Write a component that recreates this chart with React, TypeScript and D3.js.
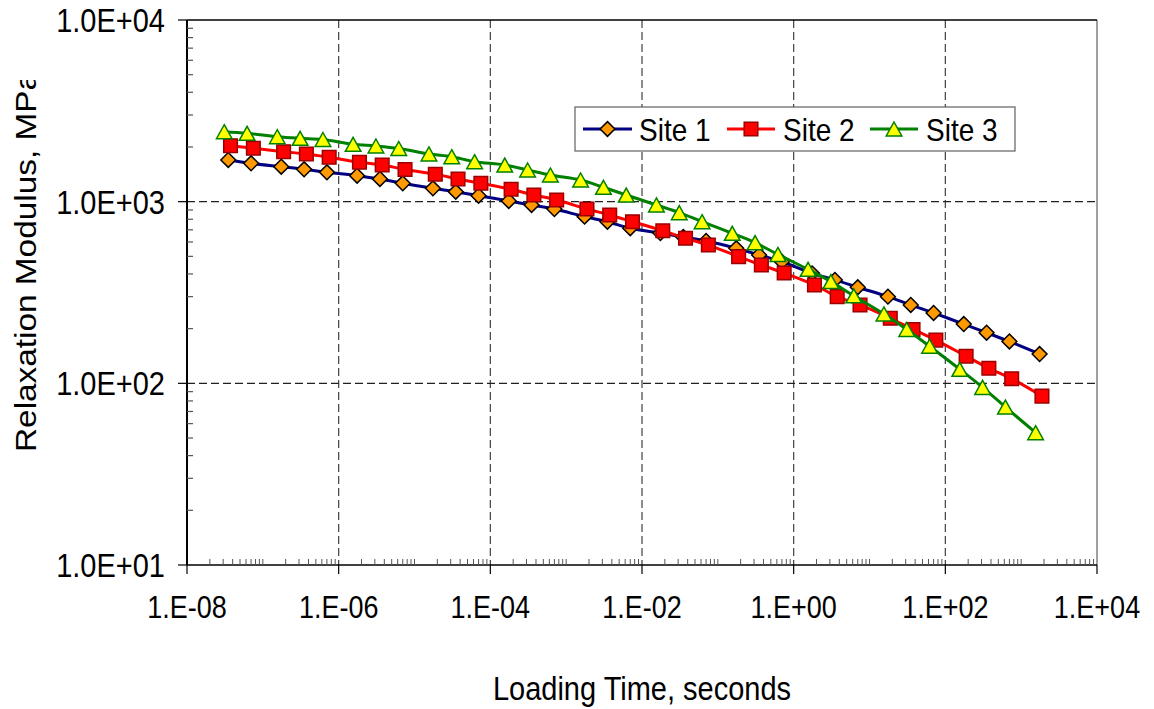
import React from 'react';
import * as d3 from 'd3';

const W = 1154;
const H = 709;

// Loading time (s) for each site
const timeSite1 = [3.5e-8, 7e-8, 1.75e-7, 3.5e-7, 7e-7, 1.75e-6, 3.5e-6, 7e-6, 1.75e-5, 3.5e-5, 7e-5, 1.75e-4, 3.5e-4, 7e-4, 1.75e-3, 3.5e-3, 7e-3, 1.75e-2, 3.5e-2, 7e-2, 0.175, 0.35, 0.7, 1.75, 3.5, 7, 17.5, 35, 70, 175, 350, 700, 1750];
const timeSite2 = [3.75e-8, 7.5e-8, 1.88e-7, 3.75e-7, 7.5e-7, 1.88e-6, 3.75e-6, 7.5e-6, 1.88e-5, 3.75e-5, 7.5e-5, 1.88e-4, 3.75e-4, 7.5e-4, 1.88e-3, 3.75e-3, 7.5e-3, 1.88e-2, 3.75e-2, 7.5e-2, 0.188, 0.375, 0.75, 1.88, 3.75, 7.5, 18.8, 37.5, 75, 188, 375, 750, 1880];
const timeSite3 = [3.1e-8, 6.2e-8, 1.55e-7, 3.1e-7, 6.2e-7, 1.55e-6, 3.1e-6, 6.2e-6, 1.55e-5, 3.1e-5, 6.2e-5, 1.55e-4, 3.1e-4, 6.2e-4, 1.55e-3, 3.1e-3, 6.2e-3, 1.55e-2, 3.1e-2, 6.2e-2, 0.155, 0.31, 0.62, 1.55, 3.1, 6.2, 15.5, 31, 62, 155, 310, 620, 1550];

// Relaxation modulus (MPa)
const modulusSite1 = [1696, 1627, 1558, 1508, 1451, 1390, 1333, 1262, 1185, 1134, 1079, 1009, 959, 911, 827, 776, 714, 672, 639, 608, 554, 509, 467, 403, 371, 338, 300, 270, 244, 212, 190, 170, 145];
const modulusSite2 = [2033, 1967, 1884, 1830, 1755, 1647, 1591, 1504, 1415, 1333, 1262, 1170, 1088, 1021, 911, 845, 776, 692, 629, 577, 498, 448, 405, 348, 300, 270, 228, 198, 173, 141, 121, 106, 85];
const modulusSite3 = [2428, 2379, 2279, 2233, 2199, 2069, 2025, 1962, 1830, 1768, 1660, 1591, 1494, 1402, 1316, 1200, 1088, 959, 870, 776, 670, 595, 512, 424, 363, 303, 241, 198, 160, 119.5, 95, 74, 53.5];

const seriesNames = ['Site 1', 'Site 2', 'Site 3'];

const xTickValues = [1e-8, 1e-6, 1e-4, 1e-2, 1, 1e2, 1e4];
const xTickLabels = ['1.E-08', '1.E-06', '1.E-04', '1.E-02', '1.E+00', '1.E+02', '1.E+04'];
const yTickValues = [10, 100, 1000, 10000];
const yTickLabels = ['1.0E+01', '1.0E+02', '1.0E+03', '1.0E+04'];

const FONT = '"Liberation Sans", Arial, sans-serif';
const STRETCH = 1.15;

const plot = { left: 187, right: 1097, top: 20, bottom: 565 };

const x = d3.scaleLog().domain([1e-8, 1e4]).range([plot.left, plot.right]);
const y = d3.scaleLog().domain([10, 1e4]).range([plot.bottom, plot.top]);

type Shape = 'diamond' | 'square' | 'triangle';
const styles: { line: string; fill: string; stroke: string; shape: Shape }[] = [
  { line: '#000080', fill: '#FF9900', stroke: '#000000', shape: 'diamond' },
  { line: '#FF0000', fill: '#FF0000', stroke: '#9A0000', shape: 'square' },
  { line: '#008000', fill: '#FFFF00', stroke: '#008000', shape: 'triangle' },
];

function markerPath(shape: Shape, cx: number, cy: number): string {
  if (shape === 'diamond') {
    const r = 7.4;
    return `M${cx},${cy - r}L${cx + r},${cy}L${cx},${cy + r}L${cx - r},${cy}Z`;
  }
  if (shape === 'square') {
    const h = 6.8;
    return `M${cx - h},${cy - h}H${cx + h}V${cy + h}H${cx - h}Z`;
  }
  const hw = 7.8;
  const hh = 7;
  return `M${cx},${cy - hh}L${cx + hw},${cy + hh}L${cx - hw},${cy + hh}Z`;
}

function Marker({ shape, cx, cy, fill, stroke }: { shape: Shape; cx: number; cy: number; fill: string; stroke: string }) {
  return <path d={markerPath(shape, cx, cy)} fill={fill} stroke={stroke} strokeWidth={1.5} strokeLinejoin="miter" />;
}

function Label({ x0, y0, anchor, children, size }: { x0: number; y0: number; anchor: string; children: React.ReactNode; size: number }) {
  return (
    <text transform={`translate(${x0},${y0}) scale(1,${STRETCH})`} textAnchor={anchor} fontFamily={FONT} fontSize={size} fill="#000">
      {children}
    </text>
  );
}

const capHeight = (size: number) => size * 0.716 * STRETCH;

export default function App() {
  const data = [
    timeSite1.map((t, i) => [t, modulusSite1[i]]),
    timeSite2.map((t, i) => [t, modulusSite2[i]]),
    timeSite3.map((t, i) => [t, modulusSite3[i]]),
  ];
  const line = d3
    .line<number[]>()
    .x((d) => x(d[0]))
    .y((d) => y(d[1]))
    .curve(d3.curveCatmullRom.alpha(0.5));

  // minor ticks: 2..9 within each decade plus odd decades on x
  const minorX: number[] = [];
  for (let e = -8; e < 4; e++) {
    for (let m = 1; m <= 9; m++) {
      if (m === 1 && e % 2 === 0) continue;
      minorX.push(m * Math.pow(10, e));
    }
  }
  const minorY: number[] = [];
  for (let e = 1; e < 4; e++) {
    for (let m = 2; m <= 9; m++) minorY.push(m * Math.pow(10, e));
  }

  const yLabelSize = 29;
  const xLabelSize = 27;
  const legendSize = 28;
  const titleSize = 29;

  const legend = { x: 575, y: 107, w: 440, h: 44 };
  const legendItems = [
    { lx0: 583, lx1: 632, tx: 639 },
    { lx0: 727, lx1: 775, tx: 783 },
    { lx0: 870, lx1: 918, tx: 926 },
  ];
  const legendMid = legend.y + legend.h / 2;

  return (
    <svg width={W} height={H} style={{ position: 'absolute', left: 0, top: 0, background: '#fff' }}>
      <defs>
        <clipPath id="ytitle-clip">
          <rect x={0} y={80} width={60} height={600} />
        </clipPath>
      </defs>
      <rect x={0} y={0} width={W} height={H} fill="#fff" />

      {/* grid */}
      {xTickValues.slice(1, -1).map((v) => (
        <line key={'gx' + v} x1={x(v)} x2={x(v)} y1={plot.top} y2={plot.bottom} stroke="#404040" strokeWidth={1.2} strokeDasharray="8,4" />
      ))}
      {yTickValues.slice(1, -1).map((v) => (
        <line key={'gy' + v} x1={plot.left} x2={plot.right} y1={y(v)} y2={y(v)} stroke="#202020" strokeWidth={1.2} strokeDasharray="8,4" />
      ))}

      {/* plot frame */}
      <line x1={plot.right} x2={plot.right} y1={plot.top} y2={plot.bottom} stroke="#808080" strokeWidth={1.5} />
      <line x1={plot.left} x2={plot.right} y1={plot.top} y2={plot.top} stroke="#000" strokeWidth={1.5} />

      {/* y axis */}
      <line x1={plot.left} x2={plot.left} y1={plot.top} y2={plot.bottom} stroke="#000" strokeWidth={2} />
      {yTickValues.map((v) => (
        <line key={'yt' + v} x1={plot.left - 9} x2={plot.left} y1={y(v)} y2={y(v)} stroke="#000" strokeWidth={1.2} />
      ))}
      {minorY.map((v) => (
        <line key={'ym' + v} x1={plot.left} x2={plot.left + 6} y1={y(v)} y2={y(v)} stroke="#555" strokeWidth={1.2} />
      ))}
      {yTickValues.map((v, i) => (
        <Label key={'yl' + v} x0={plot.left - 22} y0={y(v) + capHeight(yLabelSize) / 2} anchor="end" size={yLabelSize}>
          {yTickLabels[i]}
        </Label>
      ))}

      {/* x axis */}
      <line x1={plot.left} x2={plot.right} y1={plot.bottom} y2={plot.bottom} stroke="#000" strokeWidth={1.5} />
      {xTickValues.map((v) => (
        <line key={'xt' + v} x1={x(v)} x2={x(v)} y1={plot.bottom} y2={plot.bottom + 9} stroke="#000" strokeWidth={1.2} />
      ))}
      {minorX.map((v) => (
        <line key={'xm' + v} x1={x(v)} x2={x(v)} y1={plot.bottom - 6} y2={plot.bottom} stroke="#555" strokeWidth={1} />
      ))}
      {xTickValues.map((v, i) => (
        <Label key={'xl' + v} x0={x(v)} y0={plot.bottom + 53} anchor="middle" size={xLabelSize}>
          {xTickLabels[i]}
        </Label>
      ))}

      {/* series */}
      {data.map((pts, si) => (
        <g key={seriesNames[si]}>
          <path d={line(pts) || ''} fill="none" stroke={styles[si].line} strokeWidth={3} />
          {pts.map((d, i) => (
            <Marker key={i} shape={styles[si].shape} cx={x(d[0])} cy={y(d[1])} fill={styles[si].fill} stroke={styles[si].stroke} />
          ))}
        </g>
      ))}

      {/* legend */}
      <rect x={legend.x} y={legend.y} width={legend.w} height={legend.h} fill="#fff" stroke="#606060" strokeWidth={1.2} />
      {legendItems.map((it, i) => (
        <g key={'lg' + i}>
          <line x1={it.lx0} x2={it.lx1} y1={legendMid} y2={legendMid} stroke={styles[i].line} strokeWidth={3} />
          <Marker shape={styles[i].shape} cx={(it.lx0 + it.lx1) / 2} cy={legendMid} fill={styles[i].fill} stroke={styles[i].stroke} />
          <Label x0={it.tx} y0={legendMid + capHeight(legendSize) / 2} anchor="start" size={legendSize}>
            {seriesNames[i]}
          </Label>
        </g>
      ))}

      {/* axis titles */}
      <Label x0={(plot.left + plot.right) / 2} y0={700} anchor="middle" size={titleSize}>
        Loading Time, seconds
      </Label>
      <g clipPath="url(#ytitle-clip)">
        <text
          transform={`translate(${36},${452}) scale(1,${STRETCH}) rotate(-90)`}
          textAnchor="start"
          fontFamily={FONT}
          fontSize={titleSize}
          fill="#000"
        >
          Relaxation Modulus, MPa
        </text>
      </g>
    </svg>
  );
}
